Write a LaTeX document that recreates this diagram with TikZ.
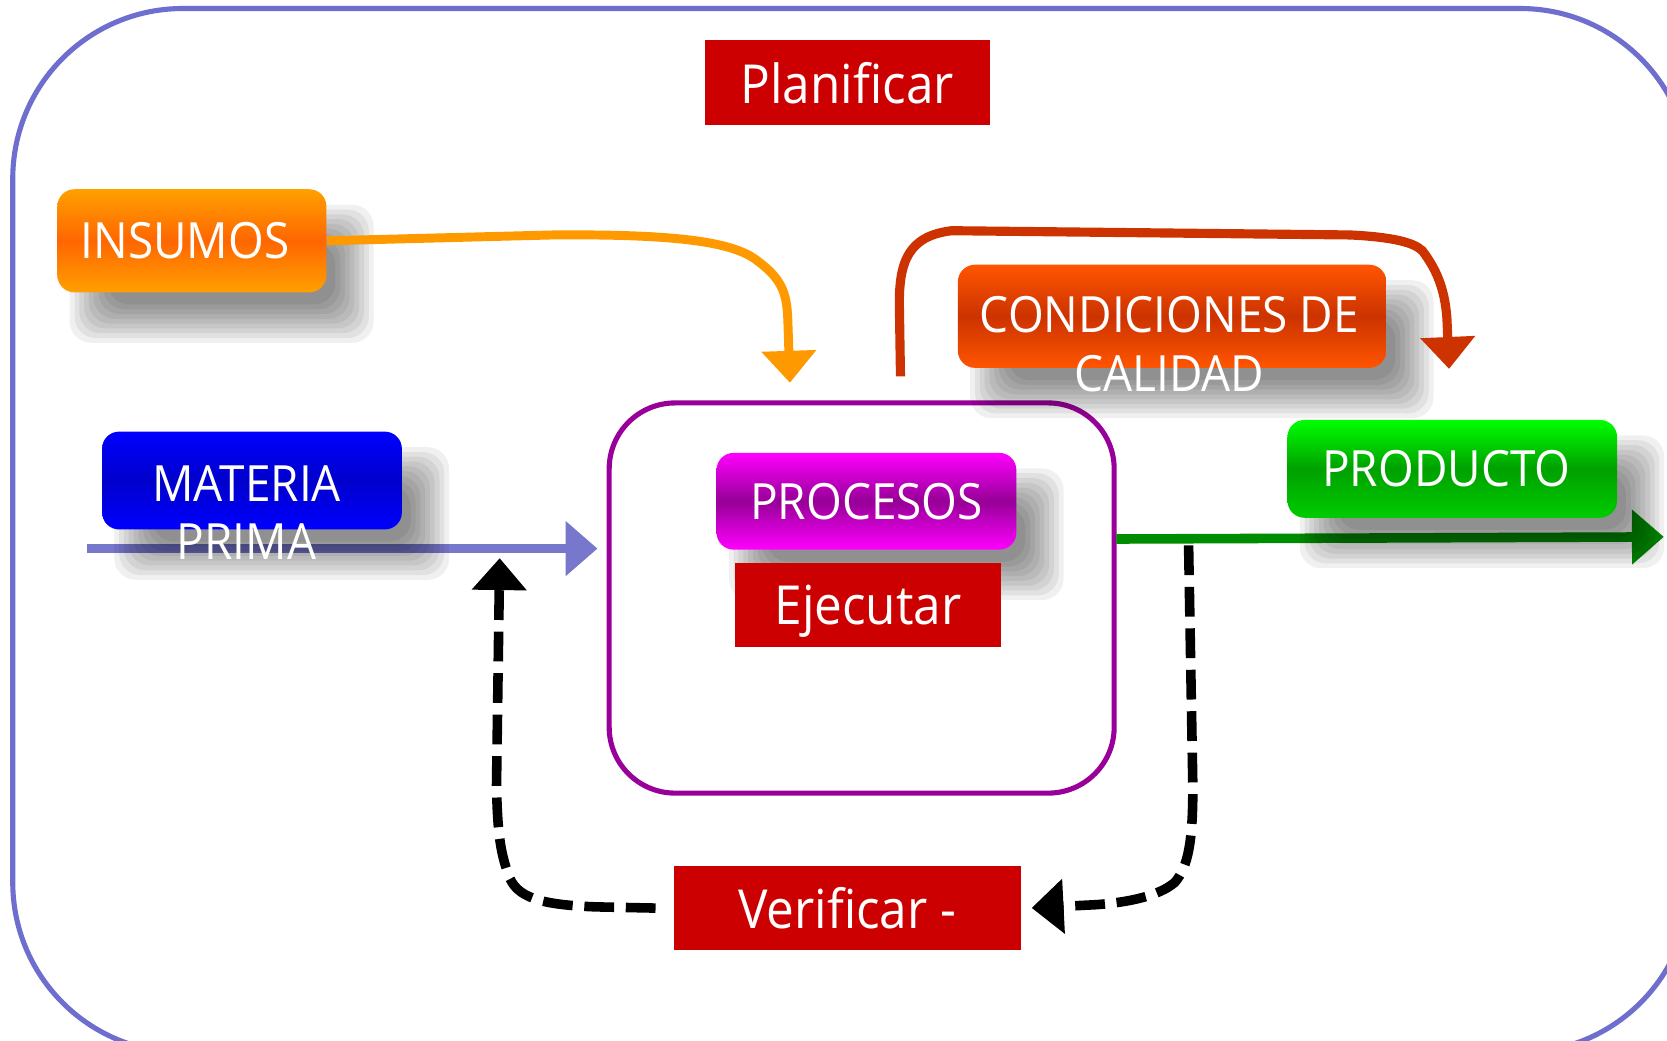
\documentclass[tikz,border=0pt]{standalone}
\usepackage{fontspec}
\setmainfont[FakeStretch=0.92]{Open Sans}
\usetikzlibrary{arrows.meta}
\definecolor{frameC}{RGB}{110,110,206}
\definecolor{redC}{RGB}{204,0,0}
\definecolor{insM}{RGB}{255,102,0}
\definecolor{insE}{RGB}{255,160,0}
\definecolor{matM}{RGB}{0,0,204}
\definecolor{matE}{RGB}{0,0,255}
\definecolor{proM}{RGB}{150,0,150}
\definecolor{proE}{RGB}{255,0,255}
\definecolor{conM}{RGB}{204,51,0}
\definecolor{conE}{RGB}{255,85,0}
\definecolor{prdM}{RGB}{0,160,0}
\definecolor{prdE}{RGB}{0,255,0}
\definecolor{prdB}{RGB}{0,204,0}
\definecolor{purC}{RGB}{153,0,153}
\definecolor{insA}{RGB}{255,153,0}
\definecolor{conA}{RGB}{204,51,0}
\definecolor{grnA}{RGB}{0,140,0}
\definecolor{matA}{RGB}{119,119,204}
\pgfdeclarelayer{bg}
\pgfdeclarelayer{shd}
\pgfsetlayers{bg,shd,main}
\newcommand\boxshadow[1]{%
  \foreach \k in {0,...,8}{%
    \pgfmathsetmacro\ins{-16+\k*4.5}%
    \fill[black, opacity=0.058, rounded corners=10pt]
      ([shift={(28+\ins,31+\ins)}]#1.north west) rectangle ([shift={(28-\ins,31-\ins)}]#1.south east);
  }}
\begin{document}
\begin{tikzpicture}[x=0.5pt,y=-0.5pt,
  redlbl/.style={fill=redC, text=white, font=\fontsize{25.3}{30}\selectfont, inner sep=0pt},
  glossy/.style={rounded corners=8pt, inner sep=0pt, text=white,
    font=\fontsize{23.5}{27.5}\selectfont},
  boxtxt/.style={text=white, font=\fontsize{23.5}{27.5}\selectfont, align=center, inner sep=0pt},
  insbox/.style={glossy, top color=insE, bottom color=insE, middle color=insM},
  matbox/.style={glossy, top color=matE, bottom color=matE, middle color=matM},
  probox/.style={glossy, top color=proE, bottom color=proE, middle color=proM},
  conbox/.style={glossy, top color=conE, bottom color=conE, middle color=conM},
  prdbox/.style={glossy, top color=prdE, bottom color=prdB, middle color=prdM},
  tip/.style={-{Triangle[width=25pt,length=15pt]}},
  dashA/.style={line width=4.5pt, black, dash pattern=on 14pt off 5.5pt, tip},
]
\useasboundingbox (0,0) rectangle (1568,979);
\clip (0,0) rectangle (1568,979);

% glossy boxes
\node[insbox, minimum width=126.5pt, minimum height=48.5pt] (ins) at (180.5,226.5) {INSUMOS\kern6.5pt};
\node[matbox, minimum width=141pt, minimum height=46pt] (mat) at (237,452) {};
\node[probox, minimum width=141pt, minimum height=45.5pt] (pro) at (815,471.5) {PROCESOS};
\node[conbox, minimum width=201.5pt, minimum height=48.5pt] (con) at (1102.5,297.5) {};
\node[prdbox, minimum width=155pt, minimum height=46pt] (prd) at (1366,441) {PRODUCTO\kern5.5pt};

\begin{pgfonlayer}{shd}
\boxshadow{ins}
\boxshadow{mat}
\boxshadow{pro}
\boxshadow{con}
\boxshadow{prd}
\end{pgfonlayer}

\begin{pgfonlayer}{bg}
\fill[white] (0,0) rectangle (1568,979);
% outer frame
\draw[frameC, line width=2.4pt, rounded corners=80pt] (12,8) rectangle (1590,990);
% central process frame
\node[draw=purC, line width=2.4pt, rounded corners=31pt, minimum width=237.5pt, minimum height=183.5pt] (proc) at (810.5,562.5) {};
% arrows beneath the box shadows
\coordinate (matS) at (82,516);
\coordinate (matEnd) at (562,516);
\draw[matA, line width=4.5pt, tip] (matS) -- (matEnd);
\coordinate (grnS) at (1050,507);
\coordinate (grnEnd) at (1565,505);
\draw[grnA, line width=4.5pt, tip] (grnS) -- (grnEnd);
\end{pgfonlayer}

% labels
\node[redlbl, minimum width=134pt, minimum height=40pt] (plan) at (797,78) {Planificar};
\node[redlbl, minimum width=163pt, minimum height=39.5pt] (ver) at (797,854.5) {Verificar -};
\node[redlbl, minimum width=125.5pt, minimum height=39.5pt, text height=21pt, text depth=3pt] (ejec) at (816.5,569.5) {Ejecutar};

\node[boxtxt] (matT) at (232,482) {MATERIA\\PRIMA};
\node[boxtxt] (conT) at (1100,323.5) {CONDICIONES DE\\CALIDAD};

\coordinate (insEnd) at (743,360);
\draw[insA, line width=4.2pt, tip] (ins.east) -- (520,221)
  .. controls (640,220) and (690,228) .. (712,245)
  .. controls (735,262) and (740,275) .. (741,300) -- (insEnd);

\coordinate (conS) at (847,354);
\coordinate (conEnd) at (1363,347);
\draw[conA, line width=4.3pt, tip] (conS) -- (846,290)
  .. controls (845,245) and (855,222) .. (895,217) -- (1270,221)
  .. controls (1310,223) and (1330,228) .. (1338,236)
  .. controls (1350,252) and (1359,270) .. (1361,300) -- (conEnd);

\coordinate (dRS) at (1118,513);
\draw[dashA, shorten >=5pt] (dRS) -- (1122,740)
  .. controls (1122,790) and (1118,815) .. (1105,830)
  .. controls (1090,843) and (1060,849) .. (1030,851) -- (ver.east);

\coordinate (dLEnd) at (470,525);
\draw[dashA, shorten <=8.5pt] (ver.west) -- (560,853)
  .. controls (510,851) and (485,845) .. (478,822)
  .. controls (470,800) and (468,780) .. (467,740) -- (dLEnd);
\end{tikzpicture}
\end{document}
